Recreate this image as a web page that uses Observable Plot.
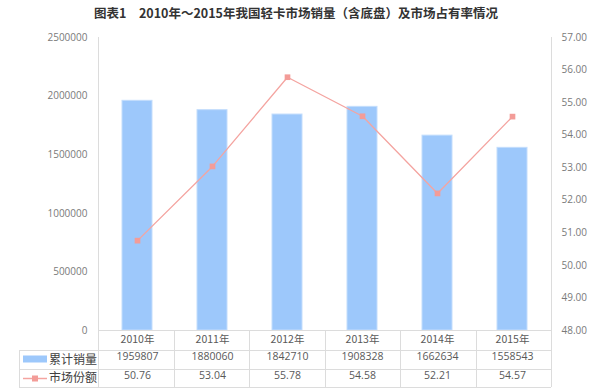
<!DOCTYPE html>
<html><head><meta charset="utf-8">
<script src="https://cdn.jsdelivr.net/npm/d3@7"></script>
<script src="https://cdn.jsdelivr.net/npm/@observablehq/plot@0.6"></script>
<style>body{margin:0;background:#fff;} svg{display:block;}</style>
</head><body><div id="chart"></div>
<script>
const title = "图表1　2010年～2015年我国轻卡市场销量（含底盘）及市场占有率情况";
const years = ["2010年","2011年","2012年","2013年","2014年","2015年"];
const sales = [1959807, 1880060, 1842710, 1908328, 1662634, 1558543];
const share = [50.76, 53.04, 55.78, 54.58, 52.21, 54.57];
const leftTicks = [0, 500000, 1000000, 1500000, 2000000, 2500000];
const rightTicks = [48, 49, 50, 51, 52, 53, 54, 55, 56, 57];
const seriesNames = ["累计销量", "市场份额"];

const yMax = 2500000, rMin = 48, rMax = 57;
const toLeft = v => (v - rMin) / (rMax - rMin) * yMax;
const fromLeft = d => rMin + d / yMax * (rMax - rMin);

const rows = years.map((y, i) => ({year: y, sales: sales[i], share: share[i], shareY: toLeft(share[i])}));

const numFont = "'Open Sans','Noto Sans CJK SC',sans-serif";
const cjkFont = "'Noto Sans CJK SC',sans-serif";
const barColor = "#9dc8fb", lineColor = "#f4a4a0", markColor = "#f39c98", gridColor = "#dcdcdc", textColor = "#595959";

function tableMark(index, scales, values, dims) {
  const {width, height, marginLeft: L, marginRight: R, marginBottom: B, marginTop: T} = dims;
  const bottom = height - B;
  const right = width - R;
  const step = (right - L) / years.length;
  const r1 = bottom + 20, r2 = bottom + 39, r3 = bottom + 57, left0 = 19;
  const g = d3.create("svg:g").attr("fill", "none").attr("stroke", gridColor).attr("stroke-width", 1);
  g.append("line").attr("x1", L + 0.5).attr("x2", L + 0.5).attr("y1", T).attr("y2", r3);
  g.append("line").attr("x1", right + 0.5).attr("x2", right + 0.5).attr("y1", T).attr("y2", bottom);
  g.append("line").attr("x1", L).attr("x2", right).attr("y1", bottom + 0.5).attr("y2", bottom + 0.5);
  for (const yy of [r1, r2, r3]) g.append("line").attr("x1", left0).attr("x2", right).attr("y1", yy + 0.5).attr("y2", yy + 0.5);
  g.append("line").attr("x1", left0 + 0.5).attr("x2", left0 + 0.5).attr("y1", r1).attr("y2", r3);
  for (let i = 1; i <= years.length; i++) {
    const xx = Math.round(L + i * step) + 0.5;
    g.append("line").attr("x1", xx).attr("x2", xx).attr("y1", bottom).attr("y2", r3);
  }
  g.append("rect").attr("x", 23).attr("y", (r1 + r2) / 2 - 4).attr("width", 24).attr("height", 7)
    .attr("fill", barColor).attr("stroke", "none");
  const ly = Math.round((r2 + r3) / 2) + 0.5;
  g.append("line").attr("x1", 23).attr("x2", 47).attr("y1", ly).attr("y2", ly).attr("stroke", lineColor).attr("stroke-width", 1.5);
  g.append("rect").attr("x", 32).attr("y", ly - 3).attr("width", 6).attr("height", 6).attr("fill", markColor).attr("stroke", "none");
  const t = d3.create("svg:g").attr("font-family", cjkFont).attr("font-size", 12).attr("fill", "#404040").attr("text-anchor", "start");
  t.append("text").attr("x", 49).attr("y", (r1 + r2) / 2).attr("dy", "0.35em").text(seriesNames[0]);
  t.append("text").attr("x", 49).attr("y", (r2 + r3) / 2).attr("dy", "0.35em").text(seriesNames[1]);
  t.append("text").attr("x", 296).attr("y", 14).attr("dy", "0.35em").attr("text-anchor", "middle")
    .attr("font-weight", "bold").attr("font-size", 12.5).attr("fill", "#333").text(title);
  const outer = d3.create("svg:g");
  outer.append(() => g.node());
  outer.append(() => t.node());
  return outer.node();
}

const chart = Plot.plot({
  width: 600, height: 390,
  marginLeft: 98, marginRight: 49, marginTop: 37, marginBottom: 60,
  style: {fontFamily: numFont, fontSize: "10px", color: textColor, background: "#fff"},
  x: {domain: years, paddingInner: 0.6, paddingOuter: 0.3, axis: null},
  y: {domain: [0, yMax], axis: null},
  marks: [
    Plot.axisY(leftTicks, {anchor: "left", tickSize: 0, tickPadding: 11, tickFormat: d => String(d), fill: "#7a7a7a", fontSize: 10}),
    Plot.axisY(rightTicks.map(toLeft), {anchor: "right", tickSize: 0, tickPadding: 10, tickFormat: d => fromLeft(d).toFixed(2), fill: "#7a7a7a", fontSize: 10}),
    Plot.barY(rows, {x: "year", y: "sales", fill: barColor, stroke: "#c3ddfc", strokeWidth: 1}),
    Plot.line(rows, {x: "year", y: "shareY", stroke: lineColor, strokeWidth: 1.3}),
    Plot.dot(rows, {x: "year", y: "shareY", symbol: "square", r: 3.2, fill: markColor, stroke: "none"}),
    tableMark,
    Plot.text(rows, {x: "year", frameAnchor: "bottom", dy: 12, text: "year", fill: textColor, fontSize: 10.5, fontFamily: cjkFont}),
    Plot.text(rows, {x: "year", frameAnchor: "bottom", dy: 29, text: d => String(d.sales), fill: textColor, fontSize: 10.5}),
    Plot.text(rows, {x: "year", frameAnchor: "bottom", dy: 48, text: d => d.share.toFixed(2), fill: textColor, fontSize: 10.5})
  ]
});
document.getElementById("chart").append(chart);
</script>
</body></html>
